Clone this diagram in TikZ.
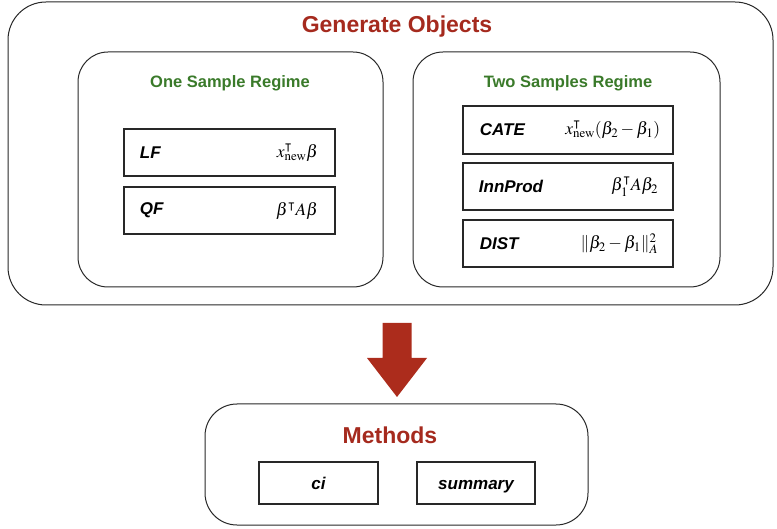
\documentclass[tikz,border=0pt]{standalone}
\usepackage{amssymb}
\usepackage{mathptmx}
\usepackage{fontspec}
\newfontfamily\hv{Liberation Sans}
\usetikzlibrary{positioning}
\definecolor{titlered}{RGB}{165,42,30}
\definecolor{regimegreen}{RGB}{58,122,42}
\definecolor{arrowred}{RGB}{172,44,28}
\definecolor{linegray}{RGB}{40,40,40}
\tikzset{
  bigbox/.style={draw=linegray, line width=1.0pt, rounded corners=38pt, inner sep=0pt},
  midbox/.style={draw=linegray, line width=1.0pt, rounded corners=30pt, inner sep=0pt},
  objbox/.style={draw=linegray, line width=1.3pt, inner sep=0pt},
  bigtitle/.style={font=\hv\fontsize{23}{26}\selectfont\bfseries, text=titlered},
  regtitle/.style={font=\hv\fontsize{16.5}{19}\selectfont\bfseries, text=regimegreen},
  objlabel/.style={font=\hv\fontsize{17}{20}\selectfont\bfseries\itshape, anchor=west},
  objmath/.style={font=\fontsize{17.5}{20}\selectfont, anchor=east},
  methlabel/.style={font=\hv\fontsize{17}{20}\selectfont\bfseries\itshape, anchor=base},
}
\begin{document}
\begin{tikzpicture}[x=1pt,y=-1pt]
\useasboundingbox (0,0) rectangle (777,529);
% outer box
\node[bigbox, minimum width=765pt, minimum height=303pt] (gen) at (390.5,153.5) {};
\node[bigtitle] (gentitle) at (397,27) {Generate Objects};
% regime boxes
\node[midbox, minimum width=305pt, minimum height=235pt] (one) at (230.5,169.5) {};
\node[midbox, minimum width=307pt, minimum height=235pt] (two) at (566.5,169.5) {};
\node[regtitle] (onetitle) at (230,83) {One Sample Regime};
\node[regtitle] (twotitle) at (568,83) {Two Samples Regime};
% one sample objects
\node[objbox, minimum width=211pt, minimum height=47pt] (lf) at (229.5,152.5) {};
\node[objbox, minimum width=211pt, minimum height=47pt] (qf) at (229.5,210.5) {};
\node[objlabel] (lft) at ([xshift=13pt]lf.west) {LF};
\node[objmath] (lfm) at ([xshift=-14pt]lf.east) {$x_{\mathrm{new}}^{\intercal}\beta$};
\node[objlabel] (qft) at ([xshift=13pt]qf.west) {QF};
\node[objmath] (qfm) at ([xshift=-14pt]qf.east) {$\beta^{\intercal}A\beta$};
% two sample objects
\node[objbox, minimum width=210pt, minimum height=48pt] (cate) at (568,130) {};
\node[objbox, minimum width=210pt, minimum height=47pt] (inn) at (568,186.5) {};
\node[objbox, minimum width=210pt, minimum height=47pt] (dist) at (568,243.5) {};
\node[objlabel] (catet) at ([xshift=14pt]cate.west) {CATE};
\node[objmath] (catem) at ([xshift=-10pt]cate.east) {$x_{\mathrm{new}}^{\intercal}(\beta_2-\beta_1)$};
\node[objlabel] (innt) at ([xshift=13pt]inn.west) {InnProd};
\node[objmath] (innm) at ([xshift=-12pt]inn.east) {$\beta_1^{\intercal}A\beta_2$};
\node[objlabel] (distt) at ([xshift=14pt]dist.west) {DIST};
\node[objmath] (distm) at ([xshift=-12pt]dist.east) {$\|\beta_2-\beta_1\|_A^2$};
% methods
\node[midbox, rounded corners=32pt, minimum width=383pt, minimum height=121pt] (meth) at (396.5,464.5) {};
\node[bigtitle] (methtitle) at (390,435) {Methods};
\node[objbox, minimum width=119pt, minimum height=42pt] (ci) at (318.5,483) {};
\node[objbox, minimum width=118pt, minimum height=42pt] (summ) at (476,483) {};
\node[methlabel] (cit) at ([yshift=-6pt]ci.center) {ci};
\node[methlabel] (summt) at ([yshift=-6pt]summ.center) {summary};
% block arrow
\coordinate (atop) at (397,323);
\fill[arrowred] ([xshift=-14.5pt]atop) -- ([xshift=14.5pt]atop) -- ++(0,35) -- ++(15.5,0)
  -- (397,397) -- (367,358) -- ([xshift=-14.5pt,yshift=-35pt]atop) -- cycle;
\end{tikzpicture}
\end{document}
